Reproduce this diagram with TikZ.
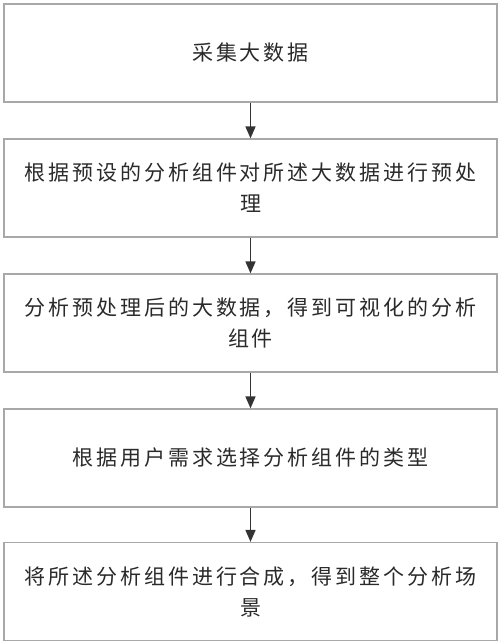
\documentclass[tikz,border=0pt]{standalone}
\usepackage{fontspec}
\newfontfamily\cjk[LetterSpace=14]{Noto Sans CJK SC}
\usetikzlibrary{arrows.meta}
\definecolor{boxgray}{HTML}{A8A8A8}
\definecolor{txt}{HTML}{2A2A2A}
\definecolor{arr}{HTML}{333333}
\tikzset{
  stepbox/.style={draw=boxgray, line width=1.2pt, rectangle, minimum width=493pt, minimum height=98pt,
    inner sep=0pt, align=center, text=txt, font=\cjk\fontsize{21pt}{31pt}\selectfont},
  flowarrow/.style={draw=arr, line width=1.6pt, -{Triangle[length=12pt,width=10pt]}}
}
\begin{document}
\begin{tikzpicture}[x=1pt,y=-1pt]
\useasboundingbox (0,0) rectangle (500,644);
\node[stepbox] (b1) at (250.5,53) {采集大数据};
\node[stepbox] (b2) at (250.5,188) {根据预设的分析组件对所述大数据进行预处\\理};
\node[stepbox] (b3) at (250.5,323) {分析预处理后的大数据，得到可视化的分析\\组件};
\node[stepbox] (b4) at (250.5,458) {根据用户需求选择分析组件的类型};
\node[stepbox] (b5) at (250.5,591.5) {将所述分析组件进行合成，得到整个分析场\\景};
\draw[flowarrow] (b1.south) -- (b2.north);
\draw[flowarrow] (b2.south) -- (b3.north);
\draw[flowarrow] (b3.south) -- (b4.north);
\draw[flowarrow] (b4.south) -- (b5.north);
\end{tikzpicture}
\end{document}
